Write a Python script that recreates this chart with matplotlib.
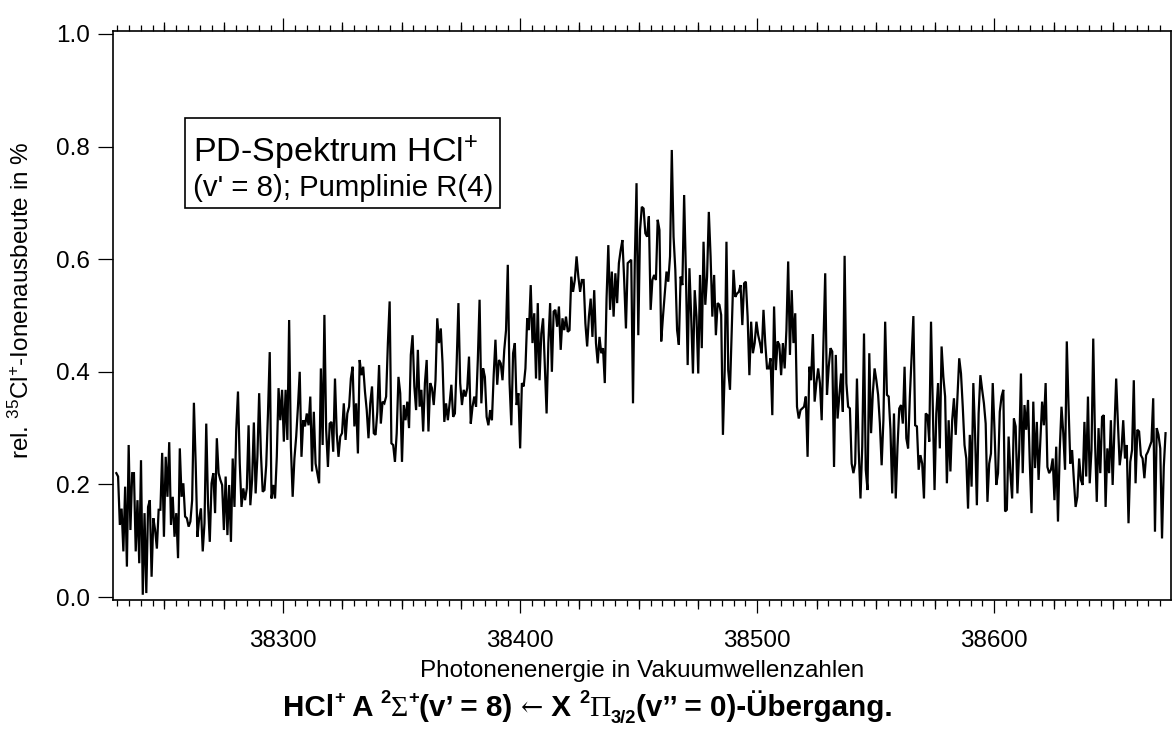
import numpy as np
import matplotlib
matplotlib.use("Agg")
import matplotlib.pyplot as plt
from matplotlib.patches import Rectangle

plt.rcParams['font.family'] = ['Liberation Sans', 'DejaVu Sans']
plt.rcParams['mathtext.fontset'] = 'custom'
plt.rcParams['mathtext.rm'] = 'Liberation Sans'
plt.rcParams['mathtext.bf'] = 'Liberation Sans:bold'
plt.rcParams['mathtext.sf'] = 'Liberation Serif'

# ---------------- data ----------------
wn_start, wn_end = 38229.7, 38672.2
ion_yield = [
    0.220, 0.214, 0.128, 0.157, 0.081, 0.196, 0.054, 0.270, 0.119, 0.220,
    0.220, 0.081, 0.172, 0.060, 0.243, 0.004, 0.149, 0.007, 0.160, 0.172,
    0.036, 0.140, 0.119, 0.086, 0.155, 0.155, 0.256, 0.107, 0.249, 0.178,
    0.275, 0.128, 0.178, 0.107, 0.149, 0.069, 0.264, 0.178, 0.202, 0.143,
    0.140, 0.125, 0.134, 0.172, 0.345, 0.237, 0.107, 0.140, 0.157, 0.081,
    0.131, 0.308, 0.166, 0.098, 0.202, 0.220, 0.149, 0.282, 0.220, 0.208,
    0.199, 0.119, 0.214, 0.110, 0.199, 0.098, 0.246, 0.160, 0.297, 0.365,
    0.237, 0.160, 0.193, 0.172, 0.193, 0.305, 0.163, 0.208, 0.310, 0.184,
    0.249, 0.362, 0.255, 0.187, 0.190, 0.234, 0.326, 0.435, 0.175, 0.199,
    0.175, 0.249, 0.371, 0.314, 0.368, 0.276, 0.368, 0.279, 0.492, 0.267,
    0.178, 0.246, 0.285, 0.338, 0.400, 0.249, 0.314, 0.303, 0.326, 0.305,
    0.356, 0.223, 0.329, 0.237, 0.220, 0.202, 0.406, 0.270, 0.501, 0.297,
    0.231, 0.308, 0.311, 0.258, 0.388, 0.291, 0.249, 0.285, 0.291, 0.344,
    0.279, 0.326, 0.338, 0.388, 0.409, 0.303, 0.344, 0.255, 0.421, 0.394,
    0.409, 0.365, 0.332, 0.282, 0.344, 0.374, 0.291, 0.288, 0.329, 0.412,
    0.308, 0.347, 0.344, 0.356, 0.451, 0.525, 0.273, 0.270, 0.240, 0.291,
    0.391, 0.362, 0.240, 0.341, 0.314, 0.347, 0.300, 0.430, 0.465, 0.374,
    0.332, 0.439, 0.338, 0.368, 0.294, 0.380, 0.421, 0.294, 0.380, 0.371,
    0.341, 0.385, 0.495, 0.451, 0.477, 0.415, 0.311, 0.344, 0.314, 0.344,
    0.377, 0.320, 0.326, 0.415, 0.522, 0.380, 0.341, 0.368, 0.356, 0.371,
    0.427, 0.308, 0.338, 0.356, 0.338, 0.421, 0.528, 0.344, 0.406, 0.391,
    0.320, 0.305, 0.332, 0.314, 0.394, 0.457, 0.377, 0.421, 0.415, 0.385,
    0.439, 0.474, 0.590, 0.380, 0.305, 0.433, 0.451, 0.341, 0.362, 0.264,
    0.380, 0.374, 0.406, 0.495, 0.474, 0.554, 0.451, 0.504, 0.388, 0.522,
    0.385, 0.468, 0.495, 0.412, 0.326, 0.451, 0.522, 0.400, 0.507, 0.510,
    0.480, 0.516, 0.439, 0.495, 0.474, 0.498, 0.471, 0.474, 0.569, 0.542,
    0.563, 0.605, 0.569, 0.542, 0.563, 0.563, 0.486, 0.445, 0.498, 0.530,
    0.462, 0.545, 0.451, 0.415, 0.462, 0.433, 0.442, 0.380, 0.530, 0.625,
    0.510, 0.578, 0.498, 0.575, 0.522, 0.593, 0.616, 0.634, 0.563, 0.477,
    0.593, 0.596, 0.599, 0.344, 0.593, 0.735, 0.465,
    0.652, 0.693, 0.690, 0.646, 0.640, 0.676, 0.510, 0.563, 0.572, 0.563,
    0.670, 0.652, 0.454, 0.498, 0.539, 0.578, 0.560, 0.605, 0.794, 0.640,
    0.581, 0.474, 0.448, 0.569, 0.554, 0.714, 0.575, 0.412, 0.584, 0.498,
    0.397, 0.545, 0.498, 0.397, 0.572, 0.442, 0.631, 0.519, 0.569, 0.684,
    0.605, 0.498, 0.572, 0.465, 0.522, 0.519, 0.501, 0.288, 0.403, 0.631,
    0.403, 0.368, 0.474, 0.581, 0.533, 0.539, 0.542, 0.554, 0.483, 0.557,
    0.560, 0.498, 0.394, 0.489, 0.433, 0.451, 0.489, 0.465, 0.451, 0.433,
    0.510, 0.451, 0.406, 0.406, 0.424, 0.323, 0.516, 0.403, 0.454, 0.448,
    0.394, 0.451, 0.406, 0.474, 0.596, 0.430, 0.545, 0.451, 0.504, 0.338,
    0.317, 0.332, 0.335, 0.338, 0.356, 0.249, 0.409, 0.385, 0.467, 0.347,
    0.380, 0.406, 0.380, 0.314, 0.451, 0.575, 0.359, 0.409, 0.442, 0.436,
    0.231, 0.430, 0.317, 0.356, 0.397, 0.329, 0.606, 0.380, 0.338, 0.335,
    0.237, 0.220, 0.237, 0.388, 0.261, 0.175, 0.267, 0.468, 0.226, 0.190,
    0.433, 0.291, 0.362, 0.406, 0.385, 0.359, 0.308, 0.234, 0.314, 0.489,
    0.359, 0.356, 0.297, 0.184, 0.326, 0.175, 0.267, 0.335, 0.341, 0.308,
    0.409, 0.282, 0.264, 0.356, 0.427, 0.499, 0.305, 0.303, 0.226, 0.252,
    0.237, 0.175, 0.326, 0.323, 0.276, 0.489, 0.338, 0.190, 0.326, 0.380,
    0.264, 0.445, 0.391, 0.356, 0.202, 0.314, 0.223, 0.314, 0.353, 0.288,
    0.356, 0.424, 0.397, 0.338, 0.270, 0.246, 0.157, 0.288, 0.196, 0.380,
    0.288, 0.163, 0.326, 0.394, 0.368, 0.344, 0.308, 0.169, 0.237, 0.255,
    0.380, 0.297, 0.199, 0.220, 0.329, 0.356, 0.368, 0.152, 0.155, 0.285,
    0.220, 0.175, 0.317, 0.303, 0.184, 0.261, 0.397, 0.220, 0.341, 0.297,
    0.350, 0.240, 0.149, 0.347, 0.229, 0.311, 0.208, 0.279, 0.347, 0.305,
    0.380, 0.231, 0.220, 0.226, 0.246, 0.172, 0.267, 0.134, 0.261, 0.338,
    0.291, 0.226, 0.454, 0.338, 0.237, 0.261, 0.208, 0.160, 0.178, 0.246,
    0.208, 0.199, 0.311, 0.214, 0.356, 0.202, 0.261, 0.459, 0.279, 0.169,
    0.300, 0.220, 0.320, 0.323, 0.160, 0.264, 0.220, 0.314, 0.199, 0.297,
    0.388, 0.308, 0.234, 0.261, 0.314, 0.246, 0.270, 0.131, 0.240, 0.261,
    0.385, 0.202, 0.297, 0.294, 0.252, 0.246, 0.211, 0.252, 0.258, 0.267,
    0.276, 0.353, 0.116, 0.300, 0.288, 0.264, 0.104, 0.231, 0.291,
]
wavenumber = np.linspace(wn_start, wn_end, len(ion_yield))

x_range = (38228.3, 38674.5)
y_range = (-0.0053, 1.0053)
x_major = [38300, 38400, 38500, 38600]
x_medium = [38250, 38275, 38325, 38350, 38375, 38425, 38450, 38475,
            38525, 38550, 38575, 38625, 38650]
x_minor = [v for v in range(38230, 38675, 5)]
y_major = [0.0, 0.2, 0.4, 0.6, 0.8, 1.0]

xlabel = "Photonenenergie in Vakuumwellenzahlen"
ylabel = r"rel. $\mathregular{^{35}}$Cl$\mathregular{^{+}}$-Ionenausbeute in %"
box_line1 = r"PD-Spektrum HCl$\mathregular{^{+}}$"
box_line2 = "(v' = 8); Pumplinie R(4)"

# ---------------- figure ----------------
W, H = 1176, 740
fig = plt.figure(figsize=(W / 100, H / 100), dpi=100)
L, R, T, B = 113, 1171, 31, 600
ax = fig.add_axes([L / W, 1 - B / H, (R - L) / W, (B - T) / H])
ax.plot(wavenumber, ion_yield, color='black', lw=1.6, solid_joinstyle='miter')
ax.set_xlim(*x_range)
ax.set_ylim(*y_range)

for s in ax.spines.values():
    s.set_linewidth(1.2)

ax.set_xticks(x_major)
ax.set_xticklabels([str(v) for v in x_major])
ax.set_xticks(x_minor, minor=True)
ax.set_yticks(y_major)
ax.set_yticklabels([f"{v:.1f}" for v in y_major])
ax.tick_params(axis='x', which='major', direction='out', length=9.4, width=0.9,
               top=True, bottom=True, labelsize=17.5, pad=12.5)
ax.tick_params(axis='x', which='minor', direction='out', length=4.0, width=0.9,
               top=True, bottom=True)
ax.tick_params(axis='y', which='major', direction='out', length=11, width=0.9,
               left=True, right=False, labelsize=17.5, pad=5.5)

for loc in ('bottom', 'top'):
    sec = ax.secondary_xaxis(loc)
    sec.set_xticks(x_medium)
    sec.tick_params(axis='x', direction='out', length=6.5, width=0.9,
                    labelbottom=False, labeltop=False)
    for s in sec.spines.values():
        s.set_visible(False)

fig.text(642 / W, 1 - 677 / H, xlabel, ha='center', va='baseline', fontsize=17.5)
fig.text(21 / W, 1 - 300 / H, ylabel, ha='center', va='center', fontsize=17.5,
         rotation=90)

# text box
fig.add_artist(Rectangle((185 / W, 1 - 208 / H), 315 / W, 90 / H,
                         transform=fig.transFigure, fill=False,
                         edgecolor='black', lw=1.2))
fig.text(193 / W, 1 - 162 / H, box_line1, ha='left', va='baseline', fontsize=24.5)
fig.text(193 / W, 1 - 196 / H, box_line2, ha='left', va='baseline', fontsize=21.2)

# caption, composed from pieces (bold sans + serif symbols)
cap_size = 21.3
pieces = [
    ("HCl", 'Liberation Sans', 'bold', 1.0, 0),
    ("+", 'Liberation Sans', 'bold', 0.62, 0.45),
    (" A ", 'Liberation Sans', 'bold', 1.0, 0),
    ("2", 'Liberation Sans', 'bold', 0.62, 0.45),
    ("\u03a3", 'Liberation Serif', 'normal', 1.0, 0),
    ("+", 'Liberation Sans', 'bold', 0.62, 0.45),
    ("(v\u2019 = 8) ", 'Liberation Sans', 'bold', 1.0, 0),
    ("\u2190", 'DejaVu Serif', 'normal', 0.9, 0),
    (" X ", 'Liberation Sans', 'bold', 1.0, 0),
    ("2", 'Liberation Sans', 'bold', 0.62, 0.45),
    ("\u03a0", 'Liberation Serif', 'normal', 1.0, 0),
    ("3/2", 'Liberation Sans', 'bold', 0.62, -0.22),
    ("(v\u2019\u2019 = 0)-\u00dcbergang.", 'Liberation Sans', 'bold', 1.0, 0),
]
renderer = fig.canvas.get_renderer()
texts = []
widths = []
for s, fam, wt, scale, rise in pieces:
    t = fig.text(0, 0, s, fontsize=cap_size * scale, family=fam, weight=wt,
                 ha='left', va='baseline')
    bb = t.get_window_extent(renderer)
    texts.append((t, rise))
    widths.append(bb.width)
total = sum(widths)
x0 = W / 2 - total / 2
base_y = 716
for (t, rise), w in zip(texts, widths):
    t.set_position((x0 / W, 1 - (base_y - rise * cap_size * 100 / 72) / H))
    x0 += w

fig.savefig("out.png", dpi=100)
